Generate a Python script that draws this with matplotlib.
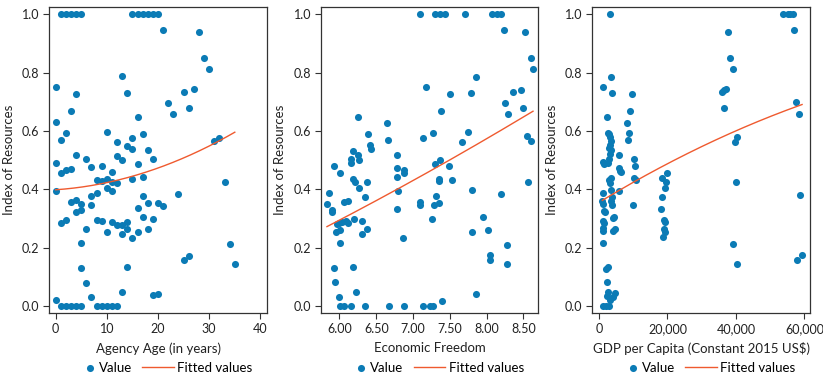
import matplotlib
matplotlib.use("Agg")
import matplotlib.pyplot as plt
from matplotlib.collections import PathCollection
from matplotlib.legend_handler import HandlerPathCollection
import numpy as np

plt.rcParams['font.family'] = ['Lato', 'DejaVu Sans']

# Index of resources against agency age (years)
age = [1, 2, 3, 4, 5, 15, 16, 17, 18, 19, 20,
       21, 28, 29, 30, 0, 4, 13, 14, 3, 22, 23, 25, 27, 26,
       0, 1, 2, 10, 16, 15, 17, 12, 14, 15, 18, 31, 32,
       0, 4, 6, 1, 2, 3, 7, 9, 12, 13, 16, 19, 11,
       8, 9, 10, 11, 12, 17, 15, 10, 11, 0, 8, 7, 17, 18, 20, 21, 24, 33,
       3, 4, 4, 5, 5, 7, 16, 17, 19, 1, 2, 8, 9, 11, 12, 13, 14,
       6, 10, 14, 13, 15, 16, 18, 5, 34, 25, 26, 35, 5, 14, 6,
       0, 7, 13, 19, 20,
       1, 2, 3, 4, 5, 8, 9, 10, 11, 12]
age_val = [1.0, 1.0, 1.0, 1.0, 1.0, 1.0, 1.0, 1.0, 1.0, 1.0, 1.0,
           0.946, 0.94, 0.85, 0.813, 0.75, 0.726, 0.787, 0.731, 0.67, 0.696, 0.659, 0.734, 0.743, 0.68,
           0.629, 0.57, 0.593, 0.597, 0.648, 0.577, 0.59, 0.562, 0.55, 0.538, 0.534, 0.566, 0.577,
           0.49, 0.518, 0.503, 0.455, 0.466, 0.471, 0.478, 0.479, 0.514, 0.5, 0.485, 0.503, 0.458,
           0.432, 0.427, 0.435, 0.425, 0.423, 0.441, 0.434, 0.403, 0.395, 0.395, 0.386, 0.376, 0.376, 0.352, 0.353, 0.344, 0.383, 0.425,
           0.355, 0.362, 0.322, 0.349, 0.328, 0.347, 0.335, 0.304, 0.299, 0.285, 0.294, 0.296, 0.29, 0.289, 0.277, 0.277, 0.289,
           0.263, 0.254, 0.263, 0.248, 0.233, 0.255, 0.263, 0.216, 0.211, 0.158, 0.171, 0.144, 0.13, 0.135, 0.08,
           0.019, 0.03, 0.047, 0.038, 0.04,
           0.0, 0.0, 0.0, 0.0, 0.0, 0.0, 0.0, 0.0, 0.0, 0.0]

# Index of resources against economic freedom score
ef = [7.09, 7.30, 7.36, 7.43, 7.71, 8.07, 8.14, 8.19,
      8.23, 8.52, 8.60, 8.63, 7.18, 7.50, 7.85, 7.79, 7.38, 8.25, 8.29, 8.36, 8.47, 8.49,
      6.25, 6.64, 6.66, 6.39, 6.42, 6.43, 6.18, 7.13, 7.27, 7.75, 7.67, 8.55, 8.60,
      6.16, 6.16, 6.25, 6.27, 7.37, 7.30, 7.49, 5.92, 6.01, 6.78, 6.78, 6.87, 6.87, 6.78,
      6.18, 6.21, 6.37, 6.26, 7.35, 7.35, 7.53, 8.56,
      5.86, 5.83, 5.90, 5.90, 6.35, 6.06, 6.12, 6.79, 6.78, 7.10, 7.10, 7.31, 7.28, 7.35, 7.80, 8.20,
      5.96, 6.00, 6.03, 6.09, 6.11, 6.20, 6.30, 5.95, 6.01, 6.31, 6.38, 7.26, 7.95, 7.80, 8.02,
      6.01, 6.86, 8.27, 8.04, 8.04, 8.27, 5.92, 6.19, 5.94, 6.00, 6.23, 7.39, 7.85,
      6.01, 6.06, 6.16, 6.34, 6.67, 6.88, 7.13, 7.23, 7.27]
ef_val = [1.0, 1.0, 1.0, 1.0, 1.0, 1.0, 1.0, 1.0,
          0.945, 0.939, 0.85, 0.813, 0.75, 0.725, 0.785, 0.729, 0.669, 0.697, 0.658, 0.734, 0.741, 0.679,
          0.648, 0.626, 0.569, 0.59, 0.552, 0.537, 0.531, 0.575, 0.592, 0.595, 0.563, 0.581, 0.565,
          0.504, 0.489, 0.517, 0.5, 0.501, 0.486, 0.479, 0.48, 0.456, 0.518, 0.472, 0.466, 0.456, 0.441,
          0.435, 0.425, 0.424, 0.406, 0.437, 0.43, 0.433, 0.426,
          0.387, 0.35, 0.328, 0.322, 0.374, 0.355, 0.359, 0.394, 0.334, 0.355, 0.347, 0.376, 0.346, 0.353, 0.397, 0.383,
          0.281, 0.286, 0.289, 0.293, 0.283, 0.298, 0.291, 0.254, 0.262, 0.246, 0.263, 0.298, 0.304, 0.255, 0.262,
          0.216, 0.234, 0.21, 0.174, 0.159, 0.143, 0.13, 0.133, 0.081, 0.031, 0.047, 0.018, 0.04,
          0.0, 0.0, 0.0, 0.0, 0.0, 0.0, 0.0, 0.0, 0.0]

# Index of resources against GDP per capita (constant 2015 US$)
gdp = [3300, 53850, 55200, 55900, 56600, 57000, 37750, 38400, 39100,
       1070, 3400, 3800, 9650, 9170, 35900, 36600, 37070, 36400, 57460, 58340,
       2340, 8290, 8880, 8580, 2650, 2900, 3200, 3500, 3300, 3000, 3600, 3100, 2800, 2600, 3400,
       39600, 40200, 5950, 5750, 6150, 6540, 10340, 10630, 10240, 10730, 9850, 5950,
       1170, 1460, 1070, 975, 1170, 1460, 1760, 1300, 1350, 1250, 1300, 1070,
       3000, 3300, 3400, 3800, 3600, 3700, 4000, 4400, 4000, 4585,
       18540, 19800, 19600, 19400, 18440, 18050, 19000, 19200, 19000, 19200, 18830,
       40100, 58630, 39000, 40300, 57950, 59320,
       2240, 1950, 2730, 2730, 2340, 3200, 4000, 4590, 1070, 2150, 2830]
gdp_val = [1.0, 1.0, 1.0, 1.0, 1.0, 0.946, 0.938, 0.85, 0.813,
           0.749, 0.786, 0.73, 0.725, 0.67, 0.734, 0.741, 0.743, 0.678, 0.698, 0.658,
           0.647, 0.627, 0.594, 0.569, 0.594, 0.591, 0.578, 0.565, 0.553, 0.54, 0.533, 0.52, 0.505, 0.49, 0.44,
           0.562, 0.578, 0.519, 0.472, 0.463, 0.46, 0.503, 0.48, 0.439, 0.431, 0.347, 0.394,
           0.493, 0.485, 0.389, 0.36, 0.35, 0.326, 0.322, 0.29, 0.283, 0.267, 0.256, 0.216,
           0.432, 0.423, 0.397, 0.375, 0.36, 0.347, 0.302, 0.304, 0.258, 0.263,
           0.44, 0.457, 0.424, 0.403, 0.375, 0.333, 0.296, 0.289, 0.263, 0.253, 0.235,
           0.426, 0.38, 0.211, 0.143, 0.159, 0.174,
           0.082, 0.128, 0.134, 0.047, 0.033, 0.021, 0.032, 0.043, 0.0, 0.0, 0.0]

panels = [
    (age, age_val, "Agency Age (in years)", (-1.24, 41.24), [0, 10, 20, 30, 40], "{:.0f}"),
    (ef, ef_val, "Economic Freedom", (5.745, 8.70), [6.0, 6.5, 7.0, 7.5, 8.0, 8.5], "{:.2f}"),
    (gdp, gdp_val, "GDP per Capita (Constant 2015 US$)", (-1950, 61560), [0, 20000, 40000, 60000], "{:,.0f}"),
]

dot_color = "#0b7bb5"
fit_color = "#ef5a2f"
frame_color = "#333333"
text_color = "#222222"

fig = plt.figure(figsize=(8.23, 3.80), dpi=100)
lefts = [0.0599, 0.3897, 0.7197]

# push the legend dot up against its label
dot_handler = HandlerPathCollection(xpad=1.6)

for left, (x, y, xlabel, xlim, xticks, fmt) in zip(lefts, panels):
    ax = fig.add_axes([left, 0.1755, 0.2642, 0.8055])
    x = np.array(x, dtype=float)
    y = np.array(y, dtype=float)
    ax.scatter(x, y, s=26, color=dot_color, linewidths=0, label="Value", zorder=3)

    # quadratic fit of the values
    coef = np.polyfit(x, y, 2)
    xs = np.linspace(x.min(), x.max(), 200)
    ax.plot(xs, np.polyval(coef, xs), color=fit_color, lw=1.0, label="Fitted values", zorder=4)

    ax.set_xlim(*xlim)
    ax.set_ylim(-0.025, 1.024)
    ax.set_xticks(xticks)
    ax.set_xticklabels([fmt.format(t) for t in xticks])
    ax.set_yticks([0, 0.2, 0.4, 0.6, 0.8, 1.0])
    ax.set_yticklabels(["0.0", "0.2", "0.4", "0.6", "0.8", "1.0"])
    ax.tick_params(direction="out", length=4, width=0.8, colors=frame_color,
                   labelsize=9, labelcolor=text_color, pad=3)
    for sp in ax.spines.values():
        sp.set_color(frame_color)
        sp.set_linewidth(0.9)
    ax.set_xlabel(xlabel, fontsize=9.5, color=text_color, labelpad=5)
    ax.set_ylabel("Index of Resources", fontsize=9.5, color=text_color, labelpad=5)
    ax.legend(loc="upper center", bbox_to_anchor=(0.5, -0.158), ncol=2, frameon=False,
              fontsize=9.5, handlelength=2.4, handletextpad=0.25, columnspacing=0.8,
              borderaxespad=0, borderpad=0, handler_map={PathCollection: dot_handler})

fig.savefig("out.png", dpi=100, facecolor="white")
